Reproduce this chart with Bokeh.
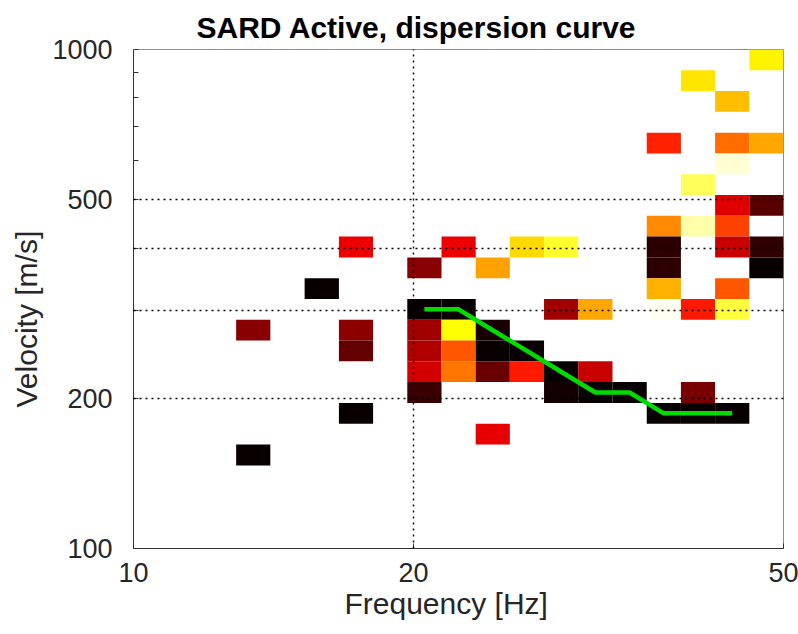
import numpy as np
from bokeh.plotting import figure
from bokeh.models import (ColumnDataSource, FixedTicker, LinearColorMapper,
                          PrintfTickFormatter, Range1d, Title)
from bokeh.transform import transform
from bokeh.embed import file_html
from bokeh.resources import INLINE

# Frequency bin centres [Hz] (log-spaced, 19 bins between 10 and 50 Hz)
freq_bins = [10.43, 11.36, 12.36, 13.45, 14.64, 15.94, 17.35, 18.88, 20.55, 22.37,
             24.34, 26.49, 28.83, 31.38, 34.16, 37.18, 40.46, 44.04, 47.93]
# Phase-velocity bin centres [m/s] (log-spaced, 24 bins between 100 and 1000 m/s)
vel_bins = [104.9, 115.5, 127.1, 139.9, 153.9, 169.5, 186.6, 205.4, 226.1, 248.9,
            273.8, 301.5, 331.9, 365.2, 402.0, 442.5, 487.0, 536.1, 590.0, 649.4,
            714.9, 786.8, 866.0, 953.2]

# Non-empty cells of the dispersion image: frequency bin, velocity bin, normalised amplitude
cell_col = [3, 6, 3, 6, 6, 6, 5, 8, 8, 9, 8, 8, 8, 8, 9, 11, 12, 10, 12, 13,
            9, 10, 9, 10, 11, 9, 10, 11, 12, 13, 12, 13, 14, 10, 15, 16, 17, 16,
            15, 15, 15, 15, 15, 16, 16, 17, 17, 17, 17, 17, 18, 18, 18, 18, 16,
            17, 15, 17, 18, 17, 16]
cell_row = [4, 6, 10, 14, 10, 9, 12, 13, 11, 11, 10, 9, 8, 7, 14, 14, 14, 13, 11, 11,
            10, 10, 9, 9, 9, 8, 8, 8, 8, 8, 7, 7, 7, 5, 6, 6, 6, 7,
            15, 14, 13, 12, 11, 15, 11, 16, 15, 14, 12, 11, 16, 14, 13, 23, 22,
            21, 19, 19, 19, 18, 17]
cell_amp = [0.015, 0.015, 0.200, 0.350, 0.210, 0.147, 0.015, 0.200, 0.015, 0.015,
            0.235, 0.259, 0.310, 0.085, 0.350, 0.693, 0.790, 0.610, 0.235, 0.620,
            0.750, 0.038, 0.500, 0.015, 0.015, 0.550, 0.156, 0.413, 0.015, 0.294,
            0.031, 0.015, 0.015, 0.341, 0.015, 0.015, 0.015, 0.176,
            0.575, 0.068, 0.068, 0.634, 0.985, 0.917, 0.413, 0.329, 0.469, 0.294,
            0.500, 0.807, 0.132, 0.071, 0.015, 0.731, 0.713,
            0.656, 0.425, 0.534, 0.620, 0.954, 0.838]

# Picked dispersion curve
disp_freq = [20.55, 22.37, 24.34, 26.49, 28.83, 31.38, 34.16, 37.18, 40.46, 44.04]
disp_vel = [301.5, 301.5, 273.8, 248.9, 226.1, 205.4, 205.4, 186.6, 186.6, 186.6]

x_ticks = [10, 20, 50]
y_ticks = [100, 200, 500, 1000]
y_minor = [300, 400, 600, 700, 800, 900]
y_grid = [100, 200, 300, 400, 500, 1000]


def bin_edges(centres):
    """Edges of log-spaced bins from their centres (geometric midpoints)."""
    c = np.asarray(centres, dtype=float)
    mid = np.sqrt(c[:-1] * c[1:])
    return np.concatenate([[c[0] ** 2 / mid[0]], mid, [c[-1] ** 2 / mid[-1]]])


def hot_palette(n=256):
    cols = []
    for i in range(n):
        t = i / (n - 1)
        r = min(1.0, t / 0.375)
        g = min(1.0, max(0.0, (t - 0.375) / 0.375))
        b = min(1.0, max(0.0, (t - 0.75) / 0.25))
        cols.append("#%02x%02x%02x" % (round(255 * r), round(255 * g), round(255 * b)))
    return cols


fe = bin_edges(freq_bins)
ve = bin_edges(vel_bins)
col = np.array(cell_col)
row = np.array(cell_row)

src = ColumnDataSource(dict(
    left=fe[col], right=fe[col + 1],
    bottom=ve[row], top=ve[row + 1],
    amp=cell_amp,
))

mapper = LinearColorMapper(palette=hot_palette(), low=0.0, high=1.0)

FONT = "Liberation Sans"
TXT = "#262626"

p = figure(width=798, height=634,
           x_axis_type="log", y_axis_type="log",
           x_range=Range1d(10, 50), y_range=Range1d(100, 1000),
           output_backend="svg", toolbar_location=None,
           min_border_left=132, min_border_right=15,
           min_border_top=49, min_border_bottom=86)

p.background_fill_color = "white"
p.border_fill_color = "white"
p.outline_line_color = "#8c8c8c"
p.outline_line_width = 1

p.quad(left="left", right="right", bottom="bottom", top="top", source=src,
       fill_color=transform("amp", mapper), line_color=None)

curve = p.line(disp_freq, disp_vel, line_color="#00dc00", line_width=4.5)
curve.level = "annotation"

# Dotted grid drawn over the image
p.xgrid.ticker = FixedTicker(ticks=[20])
p.ygrid.ticker = FixedTicker(ticks=y_grid)
for g in (p.xgrid, p.ygrid):
    g.grid_line_color = "black"
    g.grid_line_dash = "2 4"
    g.grid_line_width = 1.4
    g.level = "guide"

# Axes
p.xaxis.ticker = FixedTicker(ticks=x_ticks, minor_ticks=[])
p.yaxis.ticker = FixedTicker(ticks=y_ticks, minor_ticks=y_minor)
for ax in (p.xaxis, p.yaxis):
    ax.formatter = PrintfTickFormatter(format="%d")
    ax.axis_line_color = "#333333"
    ax.major_tick_in = 5
    ax.major_tick_out = 0
    ax.minor_tick_in = 5
    ax.minor_tick_out = 0
    ax.major_tick_line_color = "#333333"
    ax.minor_tick_line_color = "#333333"
    ax.major_label_text_font = FONT
    ax.major_label_text_font_size = "27px"
    ax.major_label_text_color = TXT
p.xaxis.major_label_standoff = 14
p.yaxis.major_label_standoff = 21

# Title
p.title.text = "SARD Active, dispersion curve"
p.title.text_font = FONT
p.title.text_font_size = "30px"
p.title.text_font_style = "bold"
p.title.text_color = "black"
p.title.align = "left"
p.title.offset = 63
p.title.standoff = 11

# Axis titles
p.add_layout(Title(text="Frequency [Hz]", align="left", offset=211, standoff=0,
                   text_font=FONT, text_font_size="30px", text_font_style="normal",
                   text_color=TXT), "below")
p.add_layout(Title(text="Velocity [m/s]", align="left", offset=141, standoff=14,
                   text_font=FONT, text_font_size="30px", text_font_style="normal",
                   text_color=TXT), "left")

open("out.html", "w").write(file_html(p, INLINE))
